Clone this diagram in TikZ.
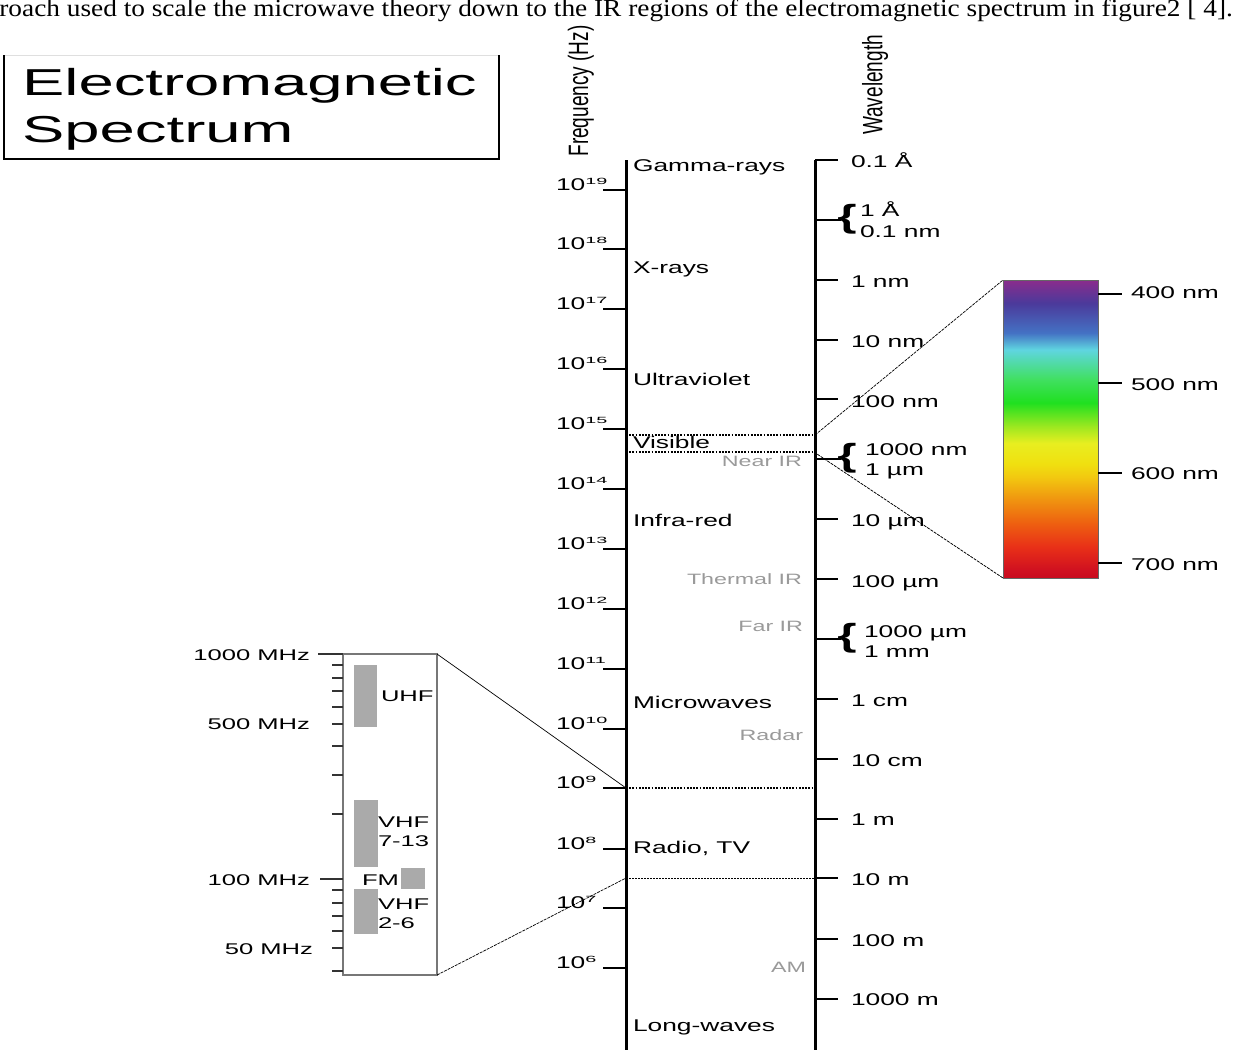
\documentclass[tikz,border=0pt]{standalone}
\usepackage{fontspec}
\newfontfamily\lab{Liberation Sans}[FakeStretch=1.55]
\newfontfamily\titf{Liberation Sans}[FakeStretch=1.69]
\newfontfamily\insf{Liberation Sans}[FakeStretch=1.65]
\newfontfamily\supf{Liberation Sans}[FakeStretch=2.2]
\newfontfamily\rotf{Liberation Sans}[FakeStretch=0.68]
\newfontfamily\serf{Liberation Serif}[FakeStretch=1.115]
\definecolor{sp01}{HTML}{C80A1E}
\definecolor{sp02}{HTML}{D01020}
\definecolor{sp03}{HTML}{E83018}
\definecolor{sp04}{HTML}{EE6010}
\definecolor{sp05}{HTML}{F09A10}
\definecolor{sp06}{HTML}{F2C810}
\definecolor{sp07}{HTML}{F0E010}
\definecolor{sp08}{HTML}{E8EE20}
\definecolor{sp09}{HTML}{A0E820}
\definecolor{sp10}{HTML}{20E020}
\definecolor{sp11}{HTML}{40E060}
\definecolor{sp12}{HTML}{5FD5E0}
\definecolor{sp13}{HTML}{4472C4}
\definecolor{sp14}{HTML}{4B3A9B}
\definecolor{sp15}{HTML}{8B2C8C}
\definecolor{bargray}{HTML}{AAAAAA}
\definecolor{insgray}{HTML}{777777}
\definecolor{tickgray}{HTML}{333333}
\definecolor{lblgray}{HTML}{9A9A9A}
% y -> bp : 25 + 50*(578-y)/298
\pgfdeclareverticalshading{visspec}{100bp}{color(0bp)=(sp01); color(25bp)=(sp01); color(26.3bp)=(sp02); color(30.2bp)=(sp03); color(34.2bp)=(sp04); color(38.6bp)=(sp05); color(41.9bp)=(sp06); color(44.2bp)=(sp07); color(47.6bp)=(sp08); color(50.3bp)=(sp09); color(54.4bp)=(sp10); color(58.3bp)=(sp11); color(63.3bp)=(sp12); color(66.1bp)=(sp13); color(71.1bp)=(sp14); color(75bp)=(sp15); color(100bp)=(sp15)}
\begin{document}
\begin{tikzpicture}[x=1pt,y=-1pt,
  lbl/.style={font=\lab\fontsize{17}{20}\selectfont, inner sep=0pt, outer sep=0pt},
  gry/.style={font=\lab\fontsize{15}{18}\selectfont, inner sep=0pt, outer sep=0pt, text=lblgray},
  ins/.style={font=\insf\fontsize{15.5}{18}\selectfont, inner sep=0pt, outer sep=0pt},
  brc/.style={font=\lab\bfseries\fontsize{32}{32}\selectfont, inner sep=0pt, outer sep=0pt},
  thk/.style={line width=2.4pt},
  thn/.style={line width=1.2pt},
  axline/.style={line width=3pt},
  dotl/.style={line width=1.7pt, dash pattern=on 1.7pt off 1.5pt},
  zl/.style={line width=0.7pt},
  zld/.style={line width=0.7pt, dash pattern=on 3pt off 1pt},
  insk/.style={line width=1.2pt, tickgray},
]
\useasboundingbox (0,0) rectangle (1236,1050);
\fill[white] (0,0) rectangle (1236,1050);

% cropped sentence at the top (cut by the page edge as in the reference)
\node[anchor=base east, inner sep=0pt, font=\serf\fontsize{24.5}{28}\selectfont] (toptext) at (1233,16) {approach used to scale the microwave theory down to the IR regions of the electromagnetic spectrum in figure2 [ 4].};

% title box
\draw[gray!25, line width=0.8pt] (4,55) -- (499,55);
\draw[line width=1.2pt] (4,55) -- (4,159) -- (499,159) -- (499,55);
\node[anchor=base west, inner sep=0pt, font=\titf\fontsize{37.5}{40}\selectfont] (title1) at (22,95) {Electromagnetic};
\node[anchor=base west, inner sep=0pt, font=\titf\fontsize{37.5}{40}\selectfont] (title2) at (22,142) {Spectrum};

% axis titles
\node[rotate=90, inner sep=0pt, font=\rotf\fontsize{28}{30}\selectfont] (freqlab) at (581,91) {Frequency (Hz)};
\node[rotate=90, inner sep=0pt, font=\rotf\fontsize{28}{30}\selectfont] (wavelab) at (875,85) {Wavelength};

% axes
\coordinate (la0) at (626,160);
\coordinate (la1) at (626,1050);
\coordinate (ra0) at (815,160);
\coordinate (ra1) at (815,1050);
\draw[axline] (la0) -- (la1);
\draw[axline] (ra0) -- (ra1);

% frequency ticks and labels
\foreach \y/\e/\w in {190/19/thn, 249/18/thn, 309/17/thn, 369/16/thk, 429/15/thk, 489/14/thk, 549/13/thk, 609/12/thk, 669/11/thk, 729/10/thk, 788/9/thk, 849/8/thk, 908/7/thn, 968/6/thn}{
  \draw[\w] (603,\y) -- (626,\y);
  \node[lbl, anchor=base west] (f\e) at (556,\y) {10\raisebox{5.5pt}{\supf\fontsize{9}{9}\selectfont\e}};
}

% band labels
\node[lbl, anchor=base west] (gamma) at (633,171) {Gamma-rays};
\node[lbl, anchor=base west] (xray) at (633,273) {X-rays};
\node[lbl, anchor=base west] (uv) at (633,385) {Ultraviolet};
\node[lbl, anchor=base west] (vis) at (633,448) {Visible};
\node[lbl, anchor=base west] (ir) at (633,526) {Infra-red};
\node[lbl, anchor=base west] (micro) at (633,708) {Microwaves};
\node[lbl, anchor=base west] (radio) at (633,853) {Radio, TV};
\node[lbl, anchor=base west] (long) at (633,1031) {Long-waves};

% sub-band labels (grey)
\node[gry, anchor=base east] (nearir) at (802,466) {Near IR};
\node[gry, anchor=base east] (thermir) at (802,584) {Thermal IR};
\node[gry, anchor=base east] (farir) at (803,631) {Far IR};
\node[gry, anchor=base east] (radar) at (803,740) {Radar};
\node[gry, anchor=base east] (am) at (806,972) {AM};

% region boundaries
\draw[dotl] (626,435) -- (815,435);
\draw[dotl] (626,452) -- (815,452);
\draw[dotl] (626,788) -- (815,788);
\draw[line width=0.8pt, dash pattern=on 2pt off 1pt] (626,878) -- (815,878);

% wavelength ticks and labels
\foreach \y/\b/\t/\w in {160/167/{0.1 Å}/thn, 280/287/{1 nm}/thn, 340/347/{10 nm}/thn, 399/407/{100 nm}/thk, 519/526/{10 µm}/thk, 579/587/{100 µm}/thk, 699/706/{1 cm}/thk, 759/766/{10 cm}/thk, 819/825/{1 m}/thk, 878/885/{10 m}/thn, 939/946/{100 m}/thn, 999/1005/{1000 m}/thn}{
  \draw[\w] (815,\y) -- (838,\y);
  \node[lbl, anchor=base west] (w\y) at (851,\b) {\t};
}
\draw[thn] (815,220) -- (841,220);
\draw[thk] (815,459) -- (841,459);
\draw[thk] (815,639) -- (841,639);
\node[brc] (br1) at (847,219) {\{};
\node[brc] (br2) at (847,458) {\{};
\node[brc] (br3) at (847,638) {\{};
\node[lbl, anchor=base west] (b1a) at (860,216) {1 Å};
\node[lbl, anchor=base west] (b1b) at (860,237) {0.1 nm};
\node[lbl, anchor=base west] (b2a) at (865,455) {1000 nm};
\node[lbl, anchor=base west] (b2b) at (865,475) {1 µm};
\node[lbl, anchor=base west] (b3a) at (864,637) {1000 µm};
\node[lbl, anchor=base west] (b3b) at (864,657) {1 mm};

% visible spectrum
\node[shade, shading=visspec, draw=black!60, line width=0.6pt, minimum width=95pt, minimum height=298pt, inner sep=0pt, outer sep=0pt] (spec) at (1050.5,429) {};
\foreach \y/\b/\t in {294/298/400 nm, 383/390/500 nm, 473/479/600 nm, 563/570/700 nm}{
  \draw[thn] (1098,\y) -- (1122,\y);
  \node[lbl, anchor=base west] (s\y) at (1131,\b) {\t};
}
\coordinate (vtop) at (815,435);
\coordinate (vbot) at (814,452);
\draw[zld] (vtop) -- (spec.north west);
\draw[zld] (vbot) -- (spec.south west);

% radio inset
\node[draw=insgray, line width=1.4pt, minimum width=94pt, minimum height=321pt, inner sep=0pt, outer sep=0pt] (inset) at (390,814.5) {};
\fill[bargray] (354,665) rectangle (377,727);
\fill[bargray] (354,800) rectangle (378,867);
\fill[bargray] (354,889) rectangle (378,934);
\fill[bargray] (401,868) rectangle (425,889);
\draw[insk] (318,654) -- (343,654);
\draw[insk] (320,879) -- (343,879);
\foreach \y in {665,678,691,707,724,746,775,814,890,903,916,931,948,971}{
  \draw[insk] (332,\y) -- (343,\y);
}
\node[ins, anchor=base east] (m1000) at (310,660) {1000 MHz};
\node[ins, anchor=base east] (m500) at (310,729) {500 MHz};
\node[ins, anchor=base east] (m100) at (310,885) {100 MHz};
\node[ins, anchor=base east] (m50) at (313,954) {50 MHz};
\node[ins, anchor=base west] (uhf) at (381,701) {UHF};
\node[ins, anchor=base west] (vhfa) at (378,827) {VHF};
\node[ins, anchor=base west] (vhfb) at (378,846) {7-13};
\node[ins, anchor=base west] (fm) at (362,885) {FM};
\node[ins, anchor=base west] (vhfc) at (378,909) {VHF};
\node[ins, anchor=base west] (vhfd) at (378,928) {2-6};
\coordinate (ghz) at (626,788);
\coordinate (mhz30) at (626,878);
\draw[zl] (inset.north east) -- (ghz);
\draw[zld] (inset.south east) -- (mhz30);
\end{tikzpicture}
\end{document}
